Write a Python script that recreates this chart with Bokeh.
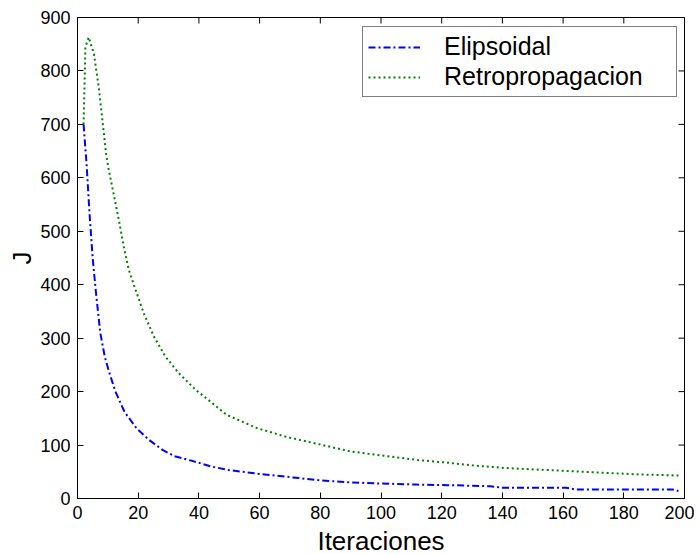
import math
from bokeh.plotting import figure
from bokeh.models import Range1d, FixedTicker, Legend, LegendItem
from bokeh.embed import file_html
from bokeh.resources import INLINE

# Data
elip_iter = [2, 3, 4, 5, 6, 7.5, 9, 10.5, 12.5, 15.5, 19.5, 23.5, 28, 32, 38, 44, 50,
             60, 70, 80, 90, 100, 112, 122, 136, 140, 161, 164, 196, 198]
elip_val = [700, 625, 530, 450, 390, 310, 265, 235, 200, 162, 131, 110, 91, 79, 70, 60, 53,
            46, 40, 34, 30, 28, 26, 25, 23, 20, 20, 17, 17, 14]

retro_iter = [2, 2.6, 3.7, 5.4, 7, 9.4, 10.3, 11.4, 12.5, 13.8, 15.2, 16.9, 19.1, 21.8,
              25.1, 28.9, 33.3, 38.8, 44.3, 49, 59, 69, 80, 90, 101, 112, 122, 130, 141,
              152, 163, 174, 185, 198]
retro_val = [700, 845, 863, 832, 770, 646, 615, 584, 553, 516, 472, 428, 391, 347,
             304, 266, 235, 204, 179, 157, 132, 115, 101, 88, 80, 72, 67, 62, 57,
             54, 51, 48, 45, 43]

x_ticks = [0, 20, 40, 60, 80, 100, 120, 140, 160, 180, 200]
y_ticks = [0, 100, 200, 300, 400, 500, 600, 700, 800, 900]
x_min, x_max = 0, 200
y_min, y_max = 0, 900

FONT = "Liberation Sans"

p = figure(frame_width=607, frame_height=481, output_backend="svg", toolbar_location=None,
           x_range=Range1d(x_min, x_max), y_range=Range1d(y_min, y_max),
           min_border_left=77, min_border_top=17, min_border_right=10, min_border_bottom=40)
p.background_fill_color = "white"
p.border_fill_color = "white"
p.outline_line_color = "black"
p.outline_line_width = 1
p.xgrid.visible = False
p.ygrid.visible = False

r1 = p.line(elip_iter, elip_val, line_color="#0000FF", line_width=2, line_dash="7 3 2 3")
r2 = p.line(retro_iter, retro_val, line_color="#008000", line_width=2, line_dash="2 3")

# Inward ticks on the top and right edges (box style), clipped to the frame
p.scatter(x_ticks, [y_max] * len(x_ticks), marker="dash", size=12, angle=math.pi / 2,
          line_color="black", line_width=1)
p.scatter([x_max] * len(y_ticks), y_ticks, marker="dash", size=12,
          line_color="black", line_width=1)

for ax, ticks in ((p.xaxis[0], x_ticks), (p.yaxis[0], y_ticks)):
    ax.ticker = FixedTicker(ticks=ticks)
    ax.axis_line_color = "black"
    ax.major_tick_line_color = "black"
    ax.major_tick_in = 6
    ax.major_tick_out = 0
    ax.minor_tick_line_color = None
    ax.major_label_text_font = FONT
    ax.major_label_text_font_size = "18px"
    ax.major_label_text_color = "black"
    ax.major_label_standoff = 7
    ax.axis_label_text_font = FONT
    ax.axis_label_text_font_size = "26px"
    ax.axis_label_text_font_style = "normal"
    ax.axis_label_text_color = "black"

p.xaxis[0].axis_label = "Iteraciones"
p.yaxis[0].axis_label = "J"
p.xaxis[0].axis_label_standoff = 4
p.yaxis[0].axis_label_standoff = 0

legend = Legend(items=[LegendItem(label="Elipsoidal", renderers=[r1]),
                       LegendItem(label="Retropropagacion", renderers=[r2])],
                location=(285, 401))
legend.label_text_font = FONT
legend.label_text_font_size = "25px"
legend.label_text_color = "black"
legend.glyph_width = 52
legend.glyph_height = 20
legend.label_height = 20
legend.label_width = 227
legend.label_standoff = 24
legend.spacing = 1
legend.padding = 5
legend.margin = 0
legend.border_line_color = "black"
legend.border_line_width = 1
legend.background_fill_color = "white"
legend.background_fill_alpha = 1
p.add_layout(legend, "center")

open("out.html", "w").write(file_html(p, INLINE))
